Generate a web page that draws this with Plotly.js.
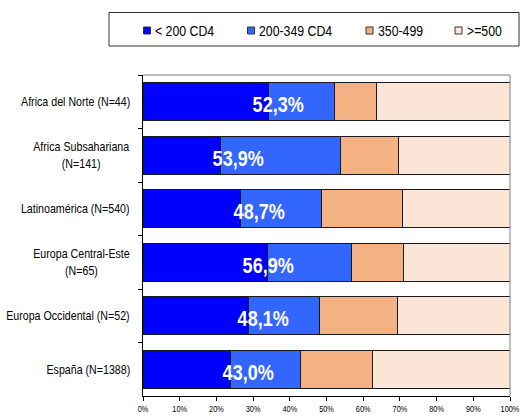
<!DOCTYPE html>
<html>
<head>
<meta charset="utf-8">
<script src="https://cdn.plot.ly/plotly-3.0.1.min.js"></script>
<style>html,body{margin:0;padding:0;background:#fff;}#chart{width:522px;height:416px;}</style>
</head>
<body>
<div id="chart"></div>
<script>
// ---- data ----
var categories = [
  "Africa del Norte (N=44)",
  "Africa Subsahariana<br>(N=141)",
  "Latinoamérica (N=540)",
  "Europa Central-Este<br>(N=65)",
  "Europa Occidental (N=52)",
  "España (N=1388)"
];
var seriesNames = ["< 200 CD4", "200-349 CD4", "350-499", ">=500"];
var under200 = [34.1, 21.1, 26.5, 33.9, 28.8, 23.8];
var cd200_349 = [18.2, 32.8, 22.2, 23.0, 19.3, 19.2];
var cd350_499 = [11.4, 15.6, 21.9, 14.0, 21.2, 19.6];
var over500 = [36.3, 30.5, 29.4, 29.1, 30.7, 37.4];
var barLabels = ["52,3%", "53,9%", "48,7%", "56,9%", "48,1%", "43,0%"];
var xTickVals = [0, 10, 20, 30, 40, 50, 60, 70, 80, 90, 100];
var xTickText = ["0%", "10%", "20%", "30%", "40%", "50%", "60%", "70%", "80%", "90%", "100%"];

// ---- styling / layout ----
var colors = ["#0000FF", "#3366FF", "#F4B183", "#FBE5D6"];
var labelX = [36.8, 25.8, 31.5, 34.0, 32.6, 28.7]; // annotation placement (% axis)
var FONT = "'Liberation Sans', Arial, sans-serif";
var NARROW = 0.82; // emulate Arial Narrow by horizontal compression
var W = 522, H = 416;
var M = {l: 143, r: 12, t: 75, b: 20};
var PW = W - M.l - M.r, PH = H - M.t - M.b;
function px(x) { return (x - M.l) / PW; }
function py(y) { return (H - M.b - y) / PH; }

var allSeries = [under200, cd200_349, cd350_499, over500];
var traces = allSeries.map(function (vals, i) {
  return {
    type: "bar",
    orientation: "h",
    name: seriesNames[i],
    y: categories,
    x: vals,
    marker: {color: colors[i], line: {color: "#1a1a1a", width: 1}},
    showlegend: false,
    hoverinfo: "x+y+name"
  };
});

var annotations = [];
var annoAnchor = []; // 'right' | 'center' | 'left' for compression origin
categories.forEach(function (c, i) {
  annotations.push({
    xref: "paper", yref: "y", x: 0, y: c, xanchor: "right", yanchor: "middle",
    xshift: -11, align: "center", showarrow: false, text: c,
    font: {family: FONT, size: 13, color: "#000"}
  });
  annoAnchor.push("right");
  annotations.push({
    xref: "x", yref: "y", x: labelX[i], y: c, xanchor: "center", yanchor: "middle",
    yshift: -3, showarrow: false, text: "<b>" + barLabels[i] + "</b>",
    font: {family: FONT, size: 22, color: "#fff"}
  });
  annoAnchor.push("center");
});

var shapes = [
  {type: "line", xref: "paper", yref: "paper", x0: 0, x1: 1, y0: 1, y1: 1, line: {color: "#808080", width: 1}},
  {type: "line", xref: "paper", yref: "paper", x0: 1, x1: 1, y0: 0, y1: 1, line: {color: "#808080", width: 1}},
  {type: "rect", xref: "paper", yref: "paper", x0: px(109), x1: px(519), y0: py(46), y1: py(12.5),
   line: {color: "#333", width: 1}, fillcolor: "rgba(0,0,0,0)"}
];
var legendX = [143.5, 247.5, 366, 455];
seriesNames.forEach(function (n, i) {
  shapes.push({type: "rect", xref: "paper", yref: "paper",
    x0: px(legendX[i]), x1: px(legendX[i] + 7), y0: py(34), y1: py(27),
    line: {color: "#333", width: 1}, fillcolor: colors[i]});
  annotations.push({xref: "paper", yref: "paper", x: px(legendX[i] + 9.5), y: py(30),
    xanchor: "left", yanchor: "middle", showarrow: false, text: n,
    font: {family: FONT, size: 15, color: "#000"}});
  annoAnchor.push("left");
});

var layout = {
  width: W, height: H,
  margin: M,
  paper_bgcolor: "#fff", plot_bgcolor: "#fff",
  barmode: "stack", bargap: 0.29,
  showlegend: false,
  font: {family: FONT, color: "#000"},
  xaxis: {
    range: [0, 100], tickvals: xTickVals, ticktext: xTickText,
    showgrid: false, zeroline: false, showline: true, linecolor: "#000", linewidth: 1,
    ticks: "outside", ticklen: 4, tickcolor: "#000",
    tickfont: {family: FONT, size: 9, color: "#000"}, fixedrange: true
  },
  yaxis: {
    type: "category", categoryorder: "array", categoryarray: categories,
    autorange: "reversed",
    showgrid: false, zeroline: false, showline: true, linecolor: "#000", linewidth: 1,
    ticks: "outside", ticklen: 4, tickcolor: "#000", tickson: "boundaries",
    showticklabels: false, fixedrange: true
  },
  annotations: annotations,
  shapes: shapes
};

function compress(el, anchor) {
  var bb = el.getBBox();
  var ox = anchor === "right" ? bb.x + bb.width : anchor === "left" ? bb.x : bb.x + bb.width / 2;
  var existing = el.getAttribute("transform") || "";
  el.setAttribute("transform", existing + " translate(" + ox + ",0) scale(" + NARROW + ",1) translate(" + (-ox) + ",0)");
}

Plotly.newPlot("chart", traces, layout, {displayModeBar: false, staticPlot: true}).then(function (gd) {
  var annTexts = gd.querySelectorAll(".annotation .annotation-text");
  annTexts.forEach(function (el, i) { compress(el, annoAnchor[i] || "center"); });
  gd.querySelectorAll(".xtick text").forEach(function (el) { compress(el, "center"); });
});
</script>
</body>
</html>
